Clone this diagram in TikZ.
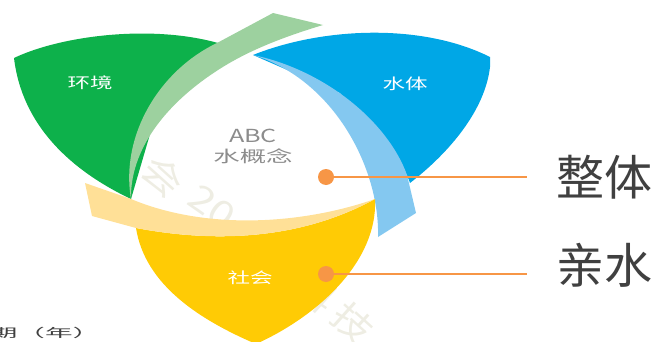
\documentclass[tikz,border=0pt]{standalone}
\usepackage{fontspec}
\setmainfont{Noto Sans CJK SC}
\definecolor{cgreen}{HTML}{0DB14B}
\definecolor{lgreen}{HTML}{9DD19F}
\definecolor{cblue}{HTML}{00A7E6}
\definecolor{lblue}{HTML}{84C8F0}
\definecolor{cyellow}{HTML}{FFCB05}
\definecolor{lyellow}{HTML}{FFE097}
\definecolor{dotc}{HTML}{F79646}
\definecolor{inkc}{HTML}{404040}
\definecolor{markc}{HTML}{EEEDE3}
\tikzset{
  petaltext/.style={text=white,font=\fontsize{15}{15}\selectfont,inner sep=0pt},
  corelabel/.style={text=black!45,inner sep=0pt},
  bigtext/.style={text=inkc,font=\fontsize{48}{48}\selectfont,inner sep=0pt},
  dotmark/.style={circle,fill=dotc,minimum size=16pt,inner sep=0pt},
  leader/.style={draw=dotc,line width=1.4pt},
  watermark/.style={text=markc,inner sep=0pt,font=\fontsize{36}{36}\selectfont}
}
\begin{document}
\begin{tikzpicture}[x=1pt,y=-1pt]
\useasboundingbox (0,0) rectangle (652,342);
\clip (0,0) rectangle (652,342);
% watermark
\node[watermark,rotate=-42] (wa) at (163,176) {\scalebox{1.15}[1]{会}};
\node[watermark,rotate=-35] (wb) at (212,207) {\scalebox{1.2}[1]{20}};
\node[watermark,rotate=-42] (wd) at (316,292) {\scalebox{1.15}[1]{科}};
\node[watermark,rotate=-42] (wc) at (353,323) {\scalebox{1.15}[1]{技}};
% green
\fill[cgreen] (14,58) .. controls (60,36) and (150,24) .. (218,43)
  -- (160,100) -- (131,199)
  .. controls (70,170) and (22,125) .. (14,58) -- cycle;
\fill[lgreen] (131,199) .. controls (120,135) and (160,70) .. (217,43) -- (273,13)
  -- (323,25) .. controls (280,38) and (245,52) .. (215,72)
  .. controls (165,105) and (130,150) .. (131,199) -- cycle;
% blue
\fill[cblue] (253,55) .. controls (320,28) and (420,22) .. (490,57)
  -- (490,67) .. controls (485,110) and (450,152) .. (410,183)
  -- (407,175) -- (340,93) -- cycle;
\fill[lblue] (253,55) .. controls (325,70) and (388,122) .. (407,175)
  -- (416,213) -- (378,237)
  .. controls (380,170) and (335,80) .. (253,55) -- cycle;
% yellow
\fill[cyellow] (375,199) .. controls (378,260) and (320,315) .. (256,344)
  .. controls (200,320) and (145,285) .. (136,228)
  .. controls (215,243) and (300,240) .. (375,199) -- cycle;
\fill[lyellow] (85,183) -- (92,216) -- (136,228)
  .. controls (215,243) and (300,240) .. (375,199)
  .. controls (300,225) and (205,230) .. (131,199) -- cycle;
% labels
\node[petaltext] (envt) at (90,83) {\scalebox{1.5}[1]{环境}};
\node[petaltext] (watt) at (405,84) {\scalebox{1.5}[1]{水体}};
\node[petaltext] (soct) at (250,278) {\scalebox{1.5}[1]{社会}};
\node[corelabel,font=\fontsize{18}{18}\selectfont] (abc) at (253,136) {\scalebox{1.4}[1]{ABC}};
\node[corelabel,font=\fontsize{16}{16}\selectfont] (con) at (253,156) {\scalebox{1.65}[1]{水概念}};
% leaders
\node[dotmark] (d1) at (326,177) {};
\node[dotmark] (d2) at (326,274) {};
\coordinate (e1) at (527,177);
\coordinate (e2) at (527,274);
\draw[leader] (d1) -- (e1);
\draw[leader] (d2) -- (e2);
\node[bigtext,anchor=west] (t1) at (556,177) {整体};
\node[bigtext,anchor=west] (t2) at (556,265) {亲水};
\node[inner sep=0pt,font=\fontsize{12}{12}\selectfont,text=inkc] (yr) at (45,332.5) {\scalebox{2.3}[1]{期（年）}};
\end{tikzpicture}
\end{document}
